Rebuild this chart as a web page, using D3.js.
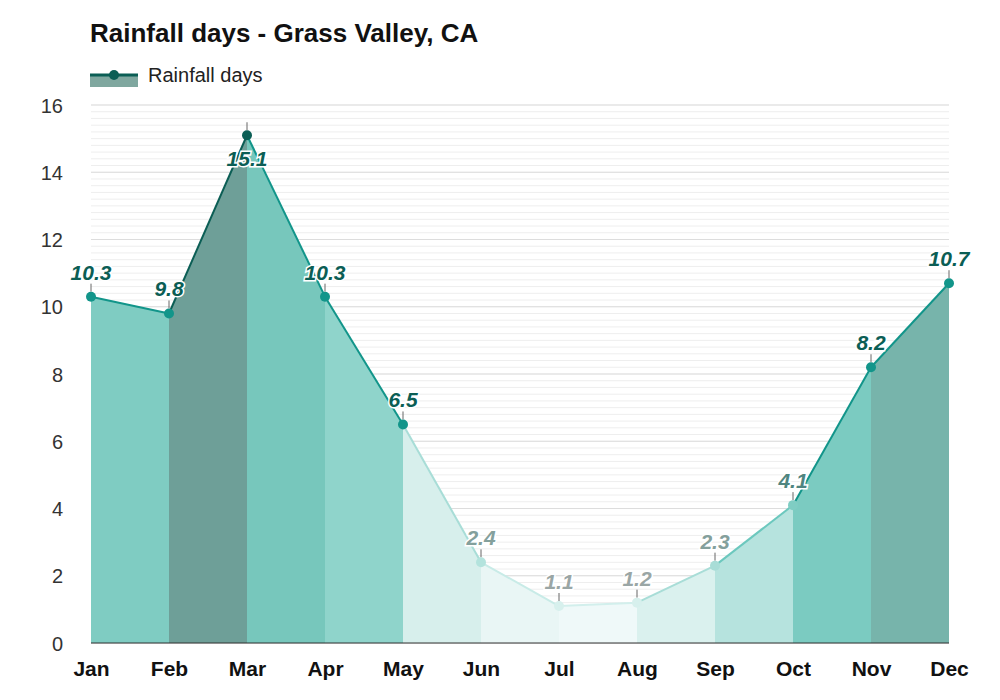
<!DOCTYPE html><html><head><script src="https://cdn.jsdelivr.net/npm/d3@7"></script>
<style>body{margin:0;background:#fff}</style></head><body><svg id="c" width="1000" height="700"></svg>
<script>
const months=["Jan","Feb","Mar","Apr","May","Jun","Jul","Aug","Sep","Oct","Nov","Dec"];
const rainDays=[10.3,9.8,15.1,10.3,6.5,2.4,1.1,1.2,2.3,4.1,8.2,10.7];
const yTicks=[0,2,4,6,8,10,12,14,16];
const segFill=["#7fccc2","#6e9f98","#77c7bc","#8fd4cb","#d7efec","#e9f6f5","#eff9f9","#daf1ee","#b6e3de","#7bcbc1","#77b4ab"];
const segLine=["#12958a","#0b5e55","#12958a","#12958a","#a8ddd7","#c8ebe7","#d2efec","#a8ddd7","#6cc8be","#12958a","#12958a"];
const ptColor=["#12958a","#12958a","#0b5e55","#12958a","#12958a","#b3e3dd","#d7f0ed","#d7f0ed","#a8ddd7","#7fcdc3","#12958a","#12958a"];
const lblColor=["#0b5e55","#0b5e55","#0b5e55","#0b5e55","#0b5e55","#84a09c","#9aa6a5","#9aa6a5","#84a09c","#4f8580","#0b5e55","#0b5e55"];
const svg=d3.select("#c");
const x=d3.scalePoint().domain(months).range([91,949]);
const y=d3.scaleLinear().domain([0,16]).range([643,105]);
const g=svg.append("g");
g.selectAll("line.minor").data(d3.range(0,16.01,0.2)).join("line").attr("x1",91).attr("x2",949)
 .attr("y1",d=>y(d)).attr("y2",d=>y(d)).attr("stroke","#eeeeee").attr("stroke-width",1);
g.selectAll("line.major").data(yTicks).join("line").attr("x1",91).attr("x2",949)
 .attr("y1",d=>y(d)).attr("y2",d=>y(d)).attr("stroke","#dddddd");
for(let i=0;i<11;i++){
 const pts=[[x(months[i]),y(0)],[x(months[i]),y(rainDays[i])],[x(months[i+1]),y(rainDays[i+1])],[x(months[i+1]),y(0)]];
 g.append("path").attr("d",d3.line()(pts)).attr("fill",segFill[i]);
 g.append("line").attr("x1",pts[1][0]).attr("y1",pts[1][1]).attr("x2",pts[2][0]).attr("y2",pts[2][1]).attr("stroke",segLine[i]).attr("stroke-width",2);
}
g.append("line").attr("x1",91).attr("x2",949).attr("y1",y(0)).attr("y2",y(0)).attr("stroke","#333");
months.forEach((m,i)=>{
 g.append("line").attr("x1",x(m)).attr("x2",x(m)).attr("y1",y(rainDays[i])-5).attr("y2",y(rainDays[i])-13).attr("stroke","#666");
 g.append("circle").attr("cx",x(m)).attr("cy",y(rainDays[i])).attr("r",5).attr("fill",ptColor[i]);
 g.append("text").attr("x",x(m)).attr("y",y(rainDays[i])+(i==2?31:-17)).attr("text-anchor","middle")
  .attr("font-family","Arial, Liberation Sans").attr("font-size",21).attr("font-weight","bold").attr("font-style","italic")
  .attr("fill",lblColor[i]).attr("stroke","#fff").attr("stroke-width",3).attr("paint-order","stroke").text(rainDays[i].toFixed(1));
});
const yAx=g.append("g").attr("transform","translate(66,0)").call(d3.axisLeft(y).tickValues(yTicks).tickSize(0));
yAx.select(".domain").remove();
yAx.selectAll("text").attr("font-family","Arial, Liberation Sans").attr("font-size",20).attr("fill","#333").attr("dy","0.35em");
const xAx=g.append("g").attr("transform","translate(0,658)").call(d3.axisBottom(x).tickSize(0));
xAx.select(".domain").remove();
xAx.selectAll("text").attr("font-family","Arial, Liberation Sans").attr("font-size",21).attr("font-weight","bold").attr("fill","#111").attr("dy","0.7em");
svg.append("text").attr("x",90).attr("y",42).attr("font-family","Arial, Liberation Sans").attr("font-size",26).attr("font-weight","bold").attr("fill","#111").text("Rainfall days - Grass Valley, CA");
svg.append("rect").attr("x",90).attr("y",75).attr("width",48).attr("height",12).attr("fill","#7fa79f");
svg.append("line").attr("x1",90).attr("x2",138).attr("y1",75).attr("y2",75).attr("stroke","#0b5e55").attr("stroke-width",3);
svg.append("circle").attr("cx",114).attr("cy",75).attr("r",5).attr("fill","#0b5e55");
svg.append("text").attr("x",148).attr("y",82).attr("font-family","Arial, Liberation Sans").attr("font-size",20).attr("fill","#222").text("Rainfall days");
</script></body></html>
